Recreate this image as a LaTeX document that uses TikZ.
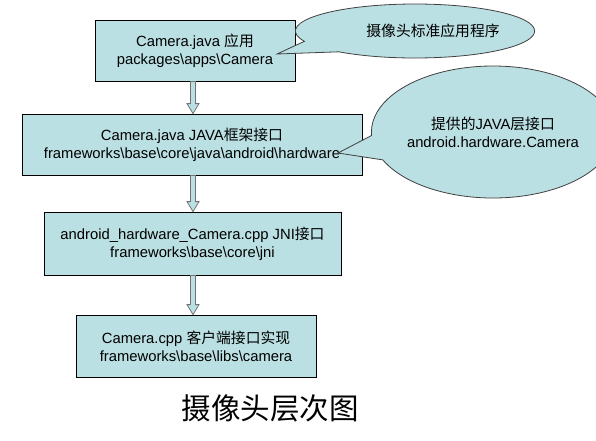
\documentclass[tikz,border=0pt]{standalone}
\usepackage{fontspec}
\setmainfont{Liberation Sans}
\newfontfamily\cjk{Noto Sans CJK SC}
\usetikzlibrary{shapes.callouts,calc}
\definecolor{boxfill}{RGB}{187,224,227}
\tikzset{
  box/.style={draw=black, line width=0.8pt, fill=boxfill, align=center, font=\fontsize{14.8}{18}\selectfont, inner sep=0pt},
  bubble/.style={ellipse callout, draw=black!75, line width=0.8pt, fill=boxfill, align=center, font=\fontsize{14.8}{18}\selectfont, inner sep=0pt},
  barrowstyle/.style={draw=black!55, line width=0.8pt, fill=boxfill, line join=miter}
}
\newcommand\blockarr[3]{%
  \draw[barrowstyle] ($(#1.south -| #3)+(-2.5,0)$) -- ($(#2.north -| #3)+(-2.5,-10)$) -- ($(#2.north -| #3)+(-6,-10)$) -- (#2.north -| #3) -- ($(#2.north -| #3)+(6,-10)$) -- ($(#2.north -| #3)+(2.5,-10)$) -- ($(#1.south -| #3)+(2.5,0)$) -- cycle;}
\begin{document}
\begin{tikzpicture}[x=1pt,y=-1pt]
\useasboundingbox (0,0) rectangle (596,440);
\fill[white] (0,0) rectangle (596,440);
\node[box, minimum width=200, minimum height=61] (b1) at (195,50.5) {Camera.java {\cjk 应用}\\packages\textbackslash apps\textbackslash Camera};
\node[box, minimum width=340, minimum height=61] (b2) at (192,144.5) {Camera.java JAVA{\cjk 框架接口}\\frameworks\textbackslash base\textbackslash core\textbackslash java\textbackslash android\textbackslash hardware};
\node[box, minimum width=297, minimum height=63] (b3) at (192.5,243.5) {android\_hardware\_Camera.cpp JNI{\cjk 接口}\\frameworks\textbackslash base\textbackslash core\textbackslash jni};
\node[box, minimum width=240, minimum height=62] (b4) at (196,346) {Camera.cpp {\cjk 客户端接口实现}\\frameworks\textbackslash base\textbackslash libs\textbackslash camera};
\coordinate (ax) at (193,0);
\blockarr{b1}{b2}{ax}
\blockarr{b2}{b3}{ax}
\blockarr{b3}{b4}{ax}
\coordinate (p1) at (277,54);
\coordinate (p2) at (338,153);
\node[bubble, minimum width=220, minimum height=54, callout absolute pointer=(p1), callout pointer arc=28] (c1) at (415,31) {\hspace*{36pt}{\cjk 摄像头标准应用程序}};
\node[bubble, minimum width=197, minimum height=132, callout absolute pointer=(p2), callout pointer arc=22] (c2) at (493,132) {{\cjk 提供的}JAVA{\cjk 层接口}\\android.hardware.Camera};
\node[font=\cjk\fontsize{29.5}{31}\selectfont] (t) at (270,408) {摄像头层次图};
\end{tikzpicture}
\end{document}
